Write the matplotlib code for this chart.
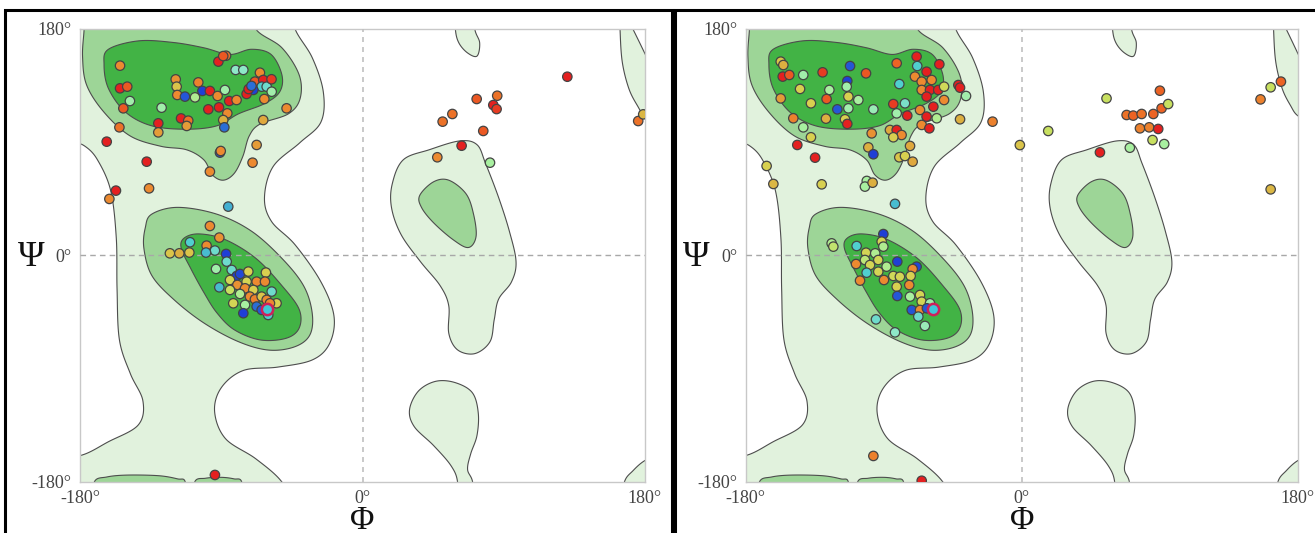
import numpy as np
import matplotlib
matplotlib.use('Agg')
import matplotlib.pyplot as plt
from matplotlib.colors import LinearSegmentedColormap
from matplotlib.patches import Rectangle
from matplotlib.transforms import ScaledTranslation

# ── Reference regions (phi, psi) in degrees ───────────────────────────────────
LIGHT_MAIN = [(-200, 200), (-45, 200), (-43, 180), (-32, 157), (-25, 130), (-26.5, 106),
              (-40, 89.5), (-57, 70.6), (-62.5, 46), (-58, 27), (-43, 8.5), (-26.5, -21),
              (-18.2, -48), (-21, -70), (-32, -83), (-54, -88.7), (-76, -91.4), (-90, -105),
              (-94.3, -124), (-87.4, -145.5), (-68, -161.6), (-51.4, -180), (-45, -200),
              (-200, -200), (-200, -160), (-180, -159), (-162, -148), (-143, -134.7),
              (-140, -115.7), (-148, -94), (-155, -67), (-156.5, -26.6), (-157, 14),
              (-160.6, 51.7), (-169, 76), (-177, 86.8), (-185, 90), (-200, 92)]
LIGHT_WRAP_TOP = [(164, 200), (164.2, 180), (165.6, 154), (169.8, 132.7), (175.3, 119),
                  (180, 111), (190, 105), (200, 105)]
LIGHT_WRAP_BOTTOM = [(165, -200), (167, -180), (172.5, -171), (180, -163), (190, -158),
                     (200, -158), (200, -200)]
LIGHT_LEFT_HANDED = [(19, 57), (26, 76), (42.6, 84), (62, 91), (73, 88), (78.5, 73), (86.8, 46),
                     (93.7, 19), (97.9, -5), (95, -21), (86.8, -34.7), (84, -51), (81.3, -68.5),
                     (71.6, -78), (60.6, -75), (55, -61.7), (55, -40), (49.5, -24), (37, -5),
                     (24.6, 16.6), (18.5, 38)]
LIGHT_LOW_BLOB = [(60, -200), (60.6, -180), (56.4, -167), (45.3, -151), (33, -136), (30, -122.5),
                  (35.7, -107.7), (46.7, -100), (59, -101), (70, -109), (73.8, -125), (73, -143),
                  (69, -157.6), (67, -170), (70.2, -180), (71, -200)]
LIGHT_TOP_BLOB = [(59, 200), (59.2, 180), (61.4, 169), (66.9, 161), (73, 158.4), (74.7, 169),
                  (71.6, 180), (71, 200)]

MID_BETA = [(-177, 200), (-68, 200), (-68, 180), (-51.4, 165), (-40.4, 143.5), (-39.8, 124.6),
            (-47.3, 112.5), (-65.3, 104.4), (-72.2, 95), (-76.3, 78.7), (-81.8, 65.2),
            (-88.8, 59.8), (-95.7, 64), (-101.2, 76), (-112.3, 84), (-128.8, 86.8),
            (-148.2, 95), (-164.8, 113.8), (-175.9, 135.4), (-178.5, 158), (-177.5, 180)]
MID_ALPHA = [(-134.4, 32.8), (-117.8, 38.2), (-92.9, 32.8), (-70.8, 19.3), (-51.4, -2.3),
             (-37.6, -24), (-32.1, -45.5), (-33.5, -63), (-43.1, -72.5), (-59.7, -75.2),
             (-79.1, -68.5), (-101.2, -53.6), (-120.6, -34.7), (-134.4, -15.8), (-139.4, 5.8),
             (-138.5, 22)]
MID_LEFT_HANDED = [(36.5, 47.7), (45.3, 58.5), (55, 59.8), (66, 49), (70.8, 32.8), (72.4, 15),
                   (67.5, 6.3), (57.8, 12.5), (45.3, 26), (37.6, 38.2)]
MID_BOTTOM_1 = [(-172, -200), (-171, -180), (-163, -176), (-150, -174.5), (-130, -175),
                (-118, -177.5), (-113, -180), (-112, -200)]
MID_BOTTOM_2 = [(-108, -200), (-107, -180), (-100, -177), (-90, -176.3), (-82, -177.5),
                (-77, -180), (-76, -200)]

INNER_BETA = [(-162, 163.8), (-142.7, 170.5), (-120.6, 169.2), (-101.2, 165), (-84.6, 159.7),
              (-70.8, 163.8), (-58.3, 159.7), (-51.4, 143.5), (-52.8, 130), (-62.5, 120.6),
              (-79.1, 112.5), (-92.9, 103), (-112.3, 100.3), (-134.4, 103), (-151, 113.8),
              (-162, 132.7), (-164.8, 151.6)]
INNER_ALPHA = [(-113.6, 13.9), (-104, 17.1), (-87.4, 12.5), (-68, -2.3), (-51.4, -24),
               (-40.4, -42.8), (-40.4, -57.7), (-48.7, -65.8), (-65.3, -67.1), (-81.8, -59),
               (-92.9, -45.5), (-101.2, -29.3), (-109.5, -10.4), (-115.6, 5.8)]

# ── Residues, left structure ──────────────────────────────────────────────────
L_PHI = [-154.6, -91.9, -87, -80.9, -76, -65.4, -68.6, -63.3, -64.3, -61.1, -57.9, -69.6, -73.9,
         -62.6, -48.4, -63.3, -154.6, -150, -152.5, -148.3, -128.1, -119.1, -118.5, -118.1,
         -113.2, -106.8, -104.7, -102.1, -97.3, -92.4, -87.7, -85, -80.3, -98.3, -91.5, -86.2,
         -88.8, -88.1, -115.7, -111.1, -112.1, -130.2, -130.2, -155, -163.1, -137.6, -136.1,
         -157.2, -161.4, -90.9, -90.4, -97.3, -67.5, -70.1, -72.6, -88.8, -58, -70.8,
         130.6, 72.8, 85.9, 83.4, 85.5, 57.3, 51.1, 77, 63.2, 47.7, 81.3, 175.8, 179,
         -85.6, -97.3, -91.3, -110, -99.4, -94.1, -122.8, -116.8, -110.4, -99.8, -87, -86.6,
         -93.4, -83.4, -80.2, -78.1, -72.8, -61.6, -84.5, -79.8, -73.9, -67.5, -62.2, -91.3,
         -84.5, -74.9, -69.6, -57.9, -78.1, -71.8, -68.6, -64.3, -82.4, -74.9, -61.1, -54.8,
         -76, -67.5, -64.3, -60.1, -59, -94.1]
L_PSI = [150.8, 154, 158.7, 147.4, 147.4, 145.2, 138.1, 139.4, 134.1, 134.1, 130.1, 131.5, 128.3,
         124.3, 116.9, 107.6, 132.8, 134.1, 116.9, 122.7, 117.4, 139.9, 134.1, 127.5,
         126.2, 125.6, 137.5, 130.7, 130.7, 126.7, 131.5, 122.7, 123.5, 116.1, 117.7, 112.9,
         107.6, 101.8, 108.9, 107.1, 102.9, 105, 97.8, 101.8, 90.4, 74.5, 53.3,
         51.5, 44.9, 81.7, 83, 66.6, 87.8, 73.7, 132.2, 158.4, 140, 134.7,
         142, 124.3, 126.9, 119.5, 116.3, 112.4, 106.3, 98.9, 87.2, 78, 73.7, 106.8, 112.1,
         38.8, 23.4, 14.2, 10.5, 7.8, 3.9, 1.7, 1.7, 2.3, 2.3, 1.2, -4.9,
         -10.7, -11.5, -16.3, -14.7, -12.8, -13.6, -19.5, -23.4, -20.8, -20.8, -20.8, -25.3,
         -27.4, -26.1, -27.4, -28.7, -30.6, -32.7, -34.8, -32.7, -38, -39.3, -35.3, -38,
         -45.9, -40.6, -43.3, -47.3, -38, -174.4]
L_COL = [.8, 1, .85, .35, .35, .8, .9, 1, .25, .3, .4, 0, 1,
         .8, .8, .72, 1, .9, .9, .4, .4, .78, .65, .8,
         .05, .45, .82, 0, 1, .8, .4, 1, .8, 1, 1, .8,
         .7, .1, 1, .85, .75, 1, .75, .85, 1, 1, .8,
         1, .8, .05, .8, .8, .75, .8, 1, .9, .95, .1,
         1, .9, .85, 1, .95, .85, .85, .9, 1, .8, .42, .85, .68,
         .2, .8, .78, .25, .8, .3, .65, .7, .65, .22, 0, .3,
         .4, .3, 0, .02, .62, .62, .6, .78, .6, .8, .8, .22,
         .55, .8, .62, .3, .45, .8, .82, .65, .6, .42, .8, .62,
         0, .1, .05, .25, .8, 1]
L_MARK = (-61.1, -42.8)

# ── Residues, right structure ─────────────────────────────────────────────────
R_PHI = [-157.1, -155.4, -155.8, -151.5, -142.4, -129.8, -111.9, -101.5, -81.5, -68.5, -68.1, -62,
         -53.7, -144.5, -157.1, -125.4, -127.2, -137.4, -113.7, -114.1, -113, -106.5, -113,
         -120.2, -96.7, -79.8, -83.7, -76.1, -81.5, -74.6, -66.3, -69.6, -65.2, -58.7, -65.2,
         -59.8, -62, -54.4, -50.6, -57.6, -62, -65.2, -60.2, -55.4, -50.6, -41.3, -40.2, -36.3,
         -40.2, -19, -148.9, -142.4, -137.4, -127.6, -115.2, -113.7, -97.8, -85.9, -81.5,
         -78.3, -83.7, -100, -96.7, -72.8, -79.8, -76.1, -71.1, -146.3, -134.7, -166.3,
         -161.9, -130.4, -101, -102.2, -97.2, -82.6,
         -90.2, -123.9, -122.8, -107.6, -91.3, -90.2, -101.5, -95.5, -102.2, -93.5, -81.1,
         -108, -98.9, -88.1, -68.5, -71.1, -101.1, -93.5, -83.7, -79.4, -72.4, -105.4, -89.8,
         -81.5, -73.3, -81.1, -72.8, -66.3, -65.2, -59.8, -71.7, -66.3, -61.8, -67.4, -63.1,
         -95, -82.6,
         -1.2, 17.3, 55.3, 51, 70.5, 68.4, 72.7, 78.2, 85.8, 90.1, 91.2, 95.5, 77.1, 83.1, 89,
         85.3, 92.9, 169, 162.3, 155.7, 162.3, -96.7, -65.2]
R_PSI = [154, 151.3, 142.1, 143.4, 143.4, 145.5, 150.5, 144.7, 152.7, 158, 150.5, 146,
         151.9, 132.3, 124.8, 131.5, 124.3, 120.9, 138.6, 134.1, 126.2, 123.5, 116.9,
         116.1, 116.1, 136.2, 120.3, 120.9, 112.9, 111.1, 115.6, 142.1, 138.1, 139.4, 131.5,
         131.5, 126.2, 131.5, 123.5, 118.2, 110.3, 103.7, 101, 109, 134.1, 135.4, 133.3, 126.7,
         108.2, 106.3, 109, 101.8, 93.9, 108.7, 108.2, 104.5, 97, 99.7, 99.7,
         95.7, 93.9, 85.9, 80.4, 87, 78, 79, 74.5, 87.8, 77.7, 71.1,
         56.8, 56.5, 59.2, 54.7, 57.8, 41,
         17, 9.6, 7, 7.5, 11, 7, 2.2, 1.7, -3.6, -3.6, -4.9,
         -6.8, -7.6, -8.9, -8.9, -10.8, -13.7, -12.9, -16.3, -16.9, -16.3, -20, -19.5,
         -24.8, -23.5, -32.2, -32.7, -31.4, -36.7, -38, -43.3, -43.3, -42, -48.6, -56,
         -50.8, -61.1,
         87.7, 98.9, 124.8, 81.9, 85.6, 111.6, 111.1, 112.4, 112.4, 130.9, 116.9, 120.3, 101,
         101.8, 100.5, 91.7, 88.5, 138.1, 133.6, 124, 52.5, -159.3, -179]
R_COL = [.65, .7, 1, .9, .4, .95, .05, .9, .88, 1, .25, 1,
         1, .62, .75, .42, .9, .62, 0, .4, .62, .42, .4,
         .05, .38, .25, .95, .32, .4, 1, .8, .8, .8, .8, .8,
         1, 1, 1, .8, 1, 1, .8, 1, .45, .58, 1, 1, .4,
         .7, .82, .82, .42, .62, .7, .62, 1, .78, .72, 1,
         .8, .62, .7, 0, .72, .65, .62, .72, 1, 1, .62,
         .68, .62, .42, .42, .7, .22,
         0, .45, .52, .25, .6, .45, .6, .45, .5, .6, 0,
         .8, .6, .45, .02, .8, .25, .6, .58, .6, .62, .8, .8,
         .62, .8, .05, .42, .6, .6, .4, .05, .8, .05, .3, .38,
         .3, .35,
         .65, .55, .55, 1, .42, .85, .88, .85, .88, .88, .88, .55, .82, .82, 1,
         .55, .42, .88, .55, .82, .68, .82, 1]
R_MARK = (-57.6, -42.5)

LIGHT = '#e1f2dd'
MID = '#9dd597'
INNER = '#42b345'
EDGE = '#4d4d4d'
residue_cmap = LinearSegmentedColormap.from_list('res', [
    (0.0, '#1f3fd6'), (0.1, '#2b6fd6'), (0.25, '#4fcfcf'), (0.35, '#8fe8c8'),
    (0.42, '#a8f0a0'), (0.55, '#c8e060'), (0.62, '#d8d050'), (0.7, '#dcb040'),
    (0.8, '#ec8a30'), (0.88, '#ec6424'), (1.0, '#e42020')])


def smooth(pts, n=16):
    # closed Catmull-Rom curve through the traced points
    P = np.array(pts, dtype=float)
    t = np.linspace(0, 1, n, endpoint=False)[:, None]
    out = []
    for i in range(len(P)):
        p0, p1, p2, p3 = P[i - 1], P[i], P[(i + 1) % len(P)], P[(i + 2) % len(P)]
        out.append(0.5 * (2 * p1 + (p2 - p0) * t + (2 * p0 - 5 * p1 + 4 * p2 - p3) * t ** 2
                          + (3 * p1 - p0 - 3 * p2 + p3) * t ** 3))
    return np.vstack(out)


def region(ax, pts, color, z):
    c = smooth(pts)
    ax.fill(c[:, 0], c[:, 1], facecolor=color, edgecolor=EDGE, lw=0.8, zorder=z)


def rama(ax, phi, psi, col, mark):
    for pts in [LIGHT_MAIN, LIGHT_WRAP_TOP, LIGHT_WRAP_BOTTOM, LIGHT_LEFT_HANDED,
                LIGHT_LOW_BLOB, LIGHT_TOP_BLOB]:
        region(ax, pts, LIGHT, 1)
    for pts in [MID_BETA, MID_ALPHA, MID_LEFT_HANDED, MID_BOTTOM_1, MID_BOTTOM_2]:
        region(ax, pts, MID, 2)
    for pts in [INNER_BETA, INNER_ALPHA]:
        region(ax, pts, INNER, 3)
    ax.axhline(0, color='#a8a8a8', lw=1, ls=(0, (4, 3)), zorder=4)
    ax.axvline(0, color='#c0c0c0', lw=1.2, ls=(0, (3, 3)), zorder=4)
    ax.scatter(phi, psi, c=col, cmap=residue_cmap, vmin=0, vmax=1, s=46,
               edgecolors='#444444', linewidths=0.9, zorder=5)
    ax.scatter([mark[0]], [mark[1]], s=66, c='#40c8d8', edgecolors='#d0205a',
               linewidths=1.8, zorder=6)
    ax.set_xlim(-180, 180)
    ax.set_ylim(-180, 180)
    for s in ax.spines.values():
        s.set_color('#c8c8c8')
        s.set_linewidth(1)
    ax.set_xticks([-180, 0, 180], ['-180°', '0°', '180°'])
    ax.set_yticks([-180, 0, 180], ['-180°', '0°', '180°'])
    ax.tick_params(length=0, labelsize=13, labelcolor='#444444')
    ax.tick_params(axis='x', pad=6)
    ax.tick_params(axis='y', pad=6)
    for lab in ax.get_xticklabels() + ax.get_yticklabels():
        lab.set_family('Liberation Serif')
    fig = ax.figure
    ax.text(0, 0.5, 'Ψ', family='Liberation Serif', fontsize=26, color='#111111',
            ha='center', va='center',
            transform=ax.transAxes + ScaledTranslation(-0.49, -0.02, fig.dpi_scale_trans))
    ax.text(0.5, 0, 'Φ', family='Liberation Serif', fontsize=24, color='#111111',
            ha='center', va='top',
            transform=ax.transAxes + ScaledTranslation(0, -0.235, fig.dpi_scale_trans))


fig = plt.figure(figsize=(13.15, 5.33), dpi=100)
fig.patch.set_facecolor('white')
ax1 = fig.add_axes([80.2 / 1315, 51 / 533, 564.6 / 1315, 453.1 / 533])
ax2 = fig.add_axes([745.6 / 1315, 51 / 533, 552.2 / 1315, 453.1 / 533])
rama(ax1, L_PHI, L_PSI, L_COL, L_MARK)
rama(ax2, R_PHI, R_PSI, R_COL, R_MARK)

# black panel frames
fig.add_artist(Rectangle((5 / 1315, -0.1), 667 / 1315, 1.1 - 10 / 533, transform=fig.transFigure,
                         fill=False, ec='black', lw=2.2))
fig.add_artist(Rectangle((675 / 1315, -0.1), 700 / 1315, 1.1 - 10 / 533, transform=fig.transFigure,
                         fill=False, ec='black', lw=2.2))

fig.savefig('out.png', dpi=100, facecolor='white')
